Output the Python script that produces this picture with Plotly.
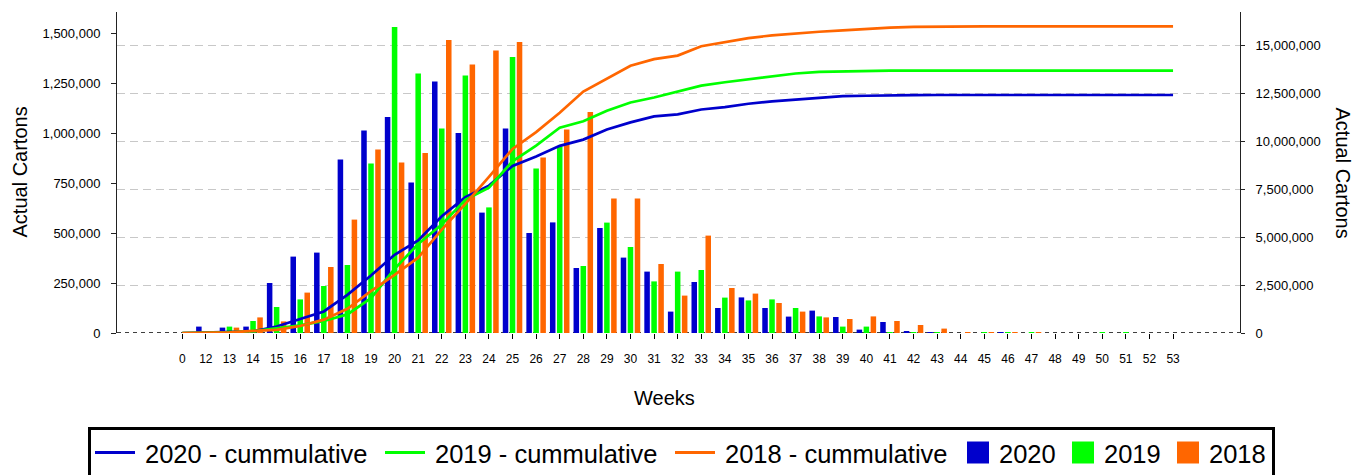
import plotly.graph_objects as go

weeks = ["0"] + [str(w) for w in range(12, 54)]

bars_2020 = [0, 32000, 27000, 32000, 250000, 382000, 402000, 867000, 1013000, 1080000,
             752000, 1257000, 1000000, 602000, 1023000, 500000, 553000, 325000, 525000, 377000,
             307000, 107000, 255000, 125000, 178000, 125000, 82000, 112000, 80000, 17000,
             55000, 7000, 1500, 0, 0, 1500, 0, 0, 0, 0, 0, 0, 0]
bars_2019 = [0, 5000, 32000, 60000, 130000, 168000, 235000, 340000, 847000, 1530000,
             1298000, 1023000, 1288000, 628000, 1380000, 823000, 932000, 335000, 552000, 430000,
             258000, 307000, 315000, 177000, 163000, 168000, 125000, 83000, 32000, 32000,
             2000, 2000, 1500, 0, 1500, 1500, 1500, 0, 0, 1500, 1500, 0, 0]
bars_2018 = [0, 2000, 27000, 78000, 58000, 202000, 330000, 567000, 918000, 852000,
             900000, 1465000, 1342000, 1413000, 1455000, 877000, 1018000, 1105000, 672000, 672000,
             345000, 187000, 487000, 225000, 197000, 150000, 107000, 78000, 70000, 83000,
             60000, 40000, 22000, 3000, 2000, 1500, 1500, 0, 0, 0, 0, 0, 0]

cum_2020 = [0, 32000, 59000, 91000, 341000, 723000, 1125000, 1992000, 3005000, 4085000,
            4837000, 6094000, 7094000, 7696000, 8719000, 9219000, 9772000, 10097000, 10622000, 10999000,
            11306000, 11413000, 11668000, 11793000, 11971000, 12096000, 12178000, 12290000, 12370000, 12387000,
            12420000, 12425000, 12426000, 12426000, 12426000, 12426000, 12426000, 12426000, 12426000, 12426000,
            12426000, 12426000, 12426000]
cum_2019 = [0, 5000, 37000, 97000, 227000, 395000, 630000, 970000, 1817000, 3347000,
            4645000, 5668000, 6956000, 7584000, 8964000, 9787000, 10719000, 11054000, 11606000, 12036000,
            12294000, 12601000, 12916000, 13093000, 13256000, 13424000, 13549000, 13632000, 13664000, 13696000,
            13698000, 13700000, 13701000, 13701000, 13701000, 13701000, 13701000, 13701000, 13701000, 13701000,
            13701000, 13701000, 13701000]
cum_2018 = [0, 2000, 29000, 107000, 165000, 367000, 697000, 1264000, 2182000, 3034000,
            3934000, 5399000, 6741000, 8154000, 9609000, 10486000, 11504000, 12609000, 13281000, 13953000,
            14298000, 14485000, 14972000, 15197000, 15394000, 15544000, 15651000, 15729000, 15799000, 15882000,
            15942000, 15982000, 16004000, 16007000, 16009000, 16010000, 16010000, 16010000, 16010000, 16010000,
            16010000, 16010000, 16010000]

line_names = ["2020 - cummulative", "2019 - cummulative", "2018 - cummulative"]
bar_names = ["2020", "2019", "2018"]

BLUE = "#0000CC"
GREEN = "#00FF00"
ORANGE = "#FF6600"
COLORS = [BLUE, GREEN, ORANGE]
FONT = "Arial, Liberation Sans, sans-serif"

fig = go.Figure()
for name, vals, col in zip(line_names, [cum_2020, cum_2019, cum_2018], COLORS):
    fig.add_trace(go.Scatter(x=weeks, y=vals, name=name, mode="lines",
                             line=dict(color=col, width=2.7), yaxis="y2", showlegend=False))
for name, vals, col in zip(bar_names, [bars_2020, bars_2019, bars_2018], COLORS):
    fig.add_trace(go.Bar(x=weeks, y=vals, name=name, marker=dict(color=col, line=dict(width=0)),
                         yaxis="y", showlegend=False))

W, H = 1365, 475
L, R, T, B = 117, 125, 12, 142
pw = W - L - R
ph = H - T - B


def px(x):
    return (x - L) / pw


def py(y):
    return (H - B - y) / ph


shapes = [
    dict(type="line", xref="paper", yref="y", x0=0, x1=1, y0=0, y1=0,
         line=dict(color="#000", width=1.5, dash="4px,4px"), layer="below"),
    dict(type="rect", xref="paper", yref="paper", x0=px(89.5), x1=px(1273.5),
         y0=py(490), y1=py(428.5), line=dict(color="#000", width=3), fillcolor="rgba(0,0,0,0)"),
]
annotations = [
    dict(text="Actual Cartons", xref="paper", yref="paper", x=px(19), y=py(172.5),
         textangle=-90, showarrow=False, font=dict(size=20), xanchor="center", yanchor="middle"),
    dict(text="Actual Cartons", xref="paper", yref="paper", x=px(1343), y=py(172.5),
         textangle=90, showarrow=False, font=dict(size=20), xanchor="center", yanchor="middle"),
    dict(text="Weeks", xref="paper", yref="paper", x=px(664), y=py(398),
         showarrow=False, font=dict(size=20), xanchor="center", yanchor="middle"),
]

# hand-built legend (large symbols as in the original)
LEG_Y = 453.5
line_starts = [95, 385, 675]
for name, col, x0 in zip(line_names, COLORS, line_starts):
    shapes.append(dict(type="line", xref="paper", yref="paper", x0=px(x0), x1=px(x0 + 40),
                       y0=py(452.5), y1=py(452.5), line=dict(color=col, width=3)))
    annotations.append(dict(text=name, xref="paper", yref="paper", x=px(x0 + 48), y=py(LEG_Y),
                            xanchor="left", yanchor="middle", showarrow=False,
                            font=dict(size=25.5, color="#000")))
square_starts = [967, 1072, 1177]
for name, col, x0 in zip(bar_names, COLORS, square_starts):
    shapes.append(dict(type="rect", xref="paper", yref="paper", x0=px(x0), x1=px(x0 + 22),
                       y0=py(463.5), y1=py(441.5), line=dict(width=0), fillcolor=col))
    annotations.append(dict(text=name, xref="paper", yref="paper", x=px(x0 + 30), y=py(LEG_Y),
                            xanchor="left", yanchor="middle", showarrow=False,
                            font=dict(size=25.5, color="#000")))

fig.update_layout(
    width=W, height=H,
    margin=dict(l=L, r=R, t=T, b=B),
    plot_bgcolor="white", paper_bgcolor="white",
    barmode="group", bargap=0.11, bargroupgap=0.21,
    showlegend=False,
    font=dict(family=FONT, size=13, color="#000"),
    xaxis=dict(type="category", range=[-2.767, 44.838], showgrid=False, showline=False,
               zeroline=False, ticks="outside", ticklen=5, tickcolor="#000",
               tickfont=dict(size=12), ticklabelstandoff=10),
    yaxis=dict(range=[0, 1605000], dtick=250000, tickformat=",d", showgrid=False,
               showline=True, linecolor="#222", linewidth=1, ticks="outside", ticklen=5,
               tickcolor="#222", zeroline=False, ticklabelstandoff=8, tickfont=dict(size=13)),
    yaxis2=dict(range=[0, 16760000], dtick=2500000, tickformat=",d", overlaying="y", side="right",
                showgrid=True, gridcolor="#c8c8c8", griddash="8px,5px", gridwidth=1,
                showline=True, linecolor="#222", linewidth=1, ticks="outside", ticklen=4,
                tickcolor="#222", zeroline=False, ticklabelstandoff=8, tickfont=dict(size=13)),
    shapes=shapes,
    annotations=annotations,
)

fig.write_html("out.html", config={"displayModeBar": False},
               post_script="document.body.style.margin='0px';")
